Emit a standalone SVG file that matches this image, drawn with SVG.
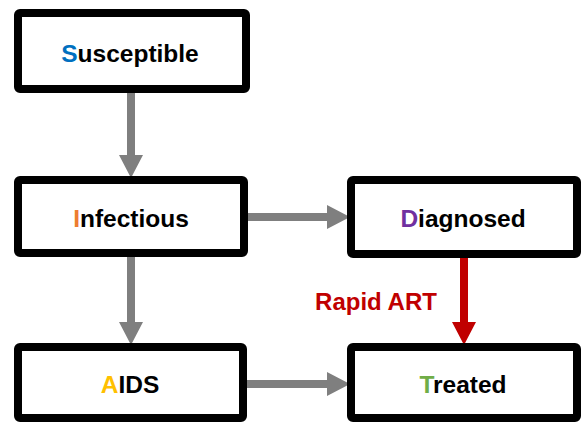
<svg xmlns="http://www.w3.org/2000/svg" width="583" height="423" viewBox="0 0 583 423">
<style>
.box{fill:#fff;stroke:#000;stroke-width:8;rx:2;}
.lbl{font-family:"Liberation Sans",Arial,sans-serif;font-weight:bold;font-size:24px;fill:#000;text-anchor:middle;}
.sh{fill:#7F7F7F;}
.red{fill:#C00000;}
</style>
<rect width="583" height="423" fill="#fff"/>
<g id="connectors">
<path class="sh" d="M127,93 H135 V155 H143 L131,178 L119,155 H127 Z"/>
<path class="sh" d="M127,257 H135 V322 H143 L131,345 L119,322 H127 Z"/>
<path class="sh" d="M244,213 H327 V205 L350,217 L327,229 V221 H244 Z"/>
<path class="sh" d="M244,380 H327 V372 L350,384 L327,396 V388 H244 Z"/>
<path class="red" d="M460,256 H468 V322 H476 L464,345 L452,322 H460 Z"/>
<text x="376" y="310" class="lbl" style="fill:#C00000">Rapid ART</text>
</g>
<g id="susceptible">
<rect class="box" x="18" y="13" width="228" height="76"/>
<text x="130" y="62" class="lbl" style="font-size:24.5px"><tspan fill="#0070C0">S</tspan>usceptible</text>
</g>
<g id="infectious">
<rect class="box" x="18" y="180" width="226" height="73"/>
<text x="131" y="227" class="lbl" style="font-size:24.5px"><tspan fill="#ED7D31">I</tspan>nfectious</text>
</g>
<g id="aids">
<rect class="box" x="18" y="347" width="225" height="71"/>
<text x="130" y="393" class="lbl" style="font-size:24.5px"><tspan fill="#FFC000">A</tspan>IDS</text>
</g>
<g id="diagnosed">
<rect class="box" x="351" y="180" width="226" height="74"/>
<text x="463" y="227" class="lbl" style="font-size:24.5px"><tspan fill="#7030A0">D</tspan>iagnosed</text>
</g>
<g id="treated">
<rect class="box" x="351" y="347" width="226" height="71"/>
<text x="463" y="393" class="lbl" style="font-size:24.5px"><tspan fill="#70AD47">T</tspan>reated</text>
</g>
</svg>
